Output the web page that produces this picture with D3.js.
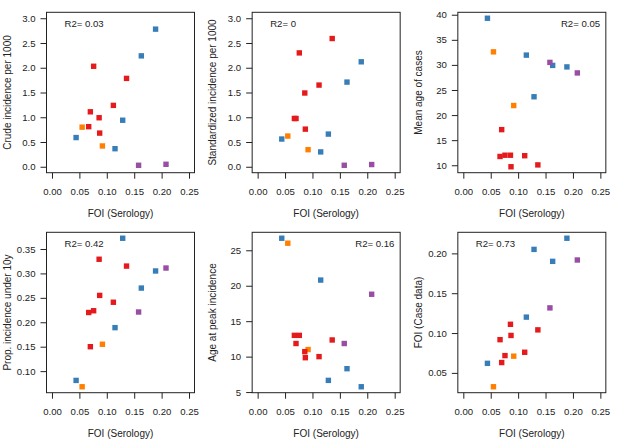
<!DOCTYPE html>
<html>
<head>
<meta charset="utf-8">
<script src="https://cdn.jsdelivr.net/npm/d3@7"></script>
<style>
  body { margin: 0; background: #fff; }
  svg { display: block; font-family: "Liberation Sans", Arial, Helvetica, sans-serif; }
  .box { fill: none; stroke: #222; stroke-width: 1; }
  .tick line { stroke: #222; }
  .tick text { fill: #222; font-size: 9.6px; }
  .ttl { fill: #222; font-size: 10px; }
  .r2 { fill: #222; font-size: 9.6px; }
</style>
</head>
<body>
<svg id="chart" width="617" height="440"></svg>
<script>
// sites, in the same order in every array
var group = ["b","b","b","b","b","o","o","r","r","r","r","r","r","r","p","p"];
var foiSero = [0.044,0.115,0.129,0.163,0.189, 0.055,0.092, 0.067,0.070,0.076,0.086,0.087,0.112,0.136, 0.158,0.208];

var crudeInc = [0.59,0.365,0.94,2.24,2.78, 0.80,0.42, 0.81,1.11,2.03,0.99,0.68,1.24,1.785, 0.03,0.05];
var stdInc   = [0.56,0.30,0.66,1.71,2.12, 0.62,0.345, 0.975,0.975,2.30,1.49,0.76,1.65,2.59, 0.03,0.045];
var meanAge  = [39.3,31.95,23.65,29.9,29.6, 32.6,21.9, 11.75,17.1,12.0,12.0,9.7,11.9,10.07, 30.5,28.4];
var propU10  = [0.081,0.189,0.372,0.270,0.305, 0.068,0.155, 0.220,0.150,0.2236,0.329,0.255,0.241,0.315, 0.221,0.311];
var peakAge  = [26.7,20.8,6.65,8.3,5.75, 26.0,11.0, 13.0,11.85,13.0,10.7,9.85,10.0,12.35, 11.85,18.8];
var foiCase  = [0.062,0.120,0.205,0.190,0.219, 0.0326,0.071, 0.0917,0.063,0.0717,0.111,0.097,0.0759,0.104, 0.1316,0.1917];

var xTicks = [0, 0.05, 0.10, 0.15, 0.20, 0.25];
var colors = { b: "#377EB8", o: "#FF7F00", r: "#E41A1C", p: "#984EA3" };

var panels = [
  { y: crudeInc, label: "Crude incidence per 1000", r2: "R2= 0.03", r2Side: "left",
    lim: [0, 3], ticks: [0, 0.5, 1, 1.5, 2, 2.5, 3], fmt: ".1f" },
  { y: stdInc, label: "Standardized incidence per 1000", r2: "R2= 0", r2Side: "left",
    lim: [0, 3], ticks: [0, 0.5, 1, 1.5, 2, 2.5, 3], fmt: ".1f" },
  { y: meanAge, label: "Mean age of cases", r2: "R2= 0.05", r2Side: "right",
    lim: null, ticks: [10, 15, 20, 25, 30, 35, 40], fmt: "d" },
  { y: propU10, label: "Prop. incidence under 10y", r2: "R2= 0.42", r2Side: "left",
    lim: null, ticks: [0.10, 0.15, 0.20, 0.25, 0.30, 0.35], fmt: ".2f" },
  { y: peakAge, label: "Age at peak incidence", r2: "R2= 0.16", r2Side: "right",
    lim: null, ticks: [5, 10, 15, 20, 25], fmt: "d" },
  { y: foiCase, label: "FOI (Case data)", r2: "R2= 0.73", r2Side: "left",
    lim: null, ticks: [0.05, 0.10, 0.15, 0.20], fmt: ".2f" }
];

var svg = d3.select("#chart");
var cellW = 617 / 3, cellH = 220;
var m = { left: 46.5, top: 12.3 };
var boxW = 148, boxH = 160.4;

// R style axis range: 4% padding on each side
function padded(ext) {
  var d = (ext[1] - ext[0]) * 0.04;
  return [ext[0] - d, ext[1] + d];
}

panels.forEach(function(p, i) {
  var col = i % 3, row = Math.floor(i / 3);
  var g = svg.append("g")
    .attr("transform", "translate(" + (col * cellW + m.left) + "," + (row * cellH + m.top) + ")");

  var x = d3.scaleLinear().domain(padded([0, 0.25])).range([0, boxW]);
  var y = d3.scaleLinear().domain(padded(p.lim || d3.extent(p.y))).range([boxH, 0]);

  g.append("g")
    .attr("class", "axis")
    .attr("transform", "translate(0," + boxH + ")")
    .call(d3.axisBottom(x).tickValues(xTicks).tickFormat(d3.format(".2f")).tickSize(6).tickPadding(9))
    .call(function(a) { a.select(".domain").remove(); });

  g.append("g")
    .attr("class", "axis")
    .call(d3.axisLeft(y).tickValues(p.ticks).tickFormat(d3.format(p.fmt)).tickSize(6).tickPadding(5))
    .call(function(a) { a.select(".domain").remove(); });

  g.append("rect").attr("class", "box")
    .attr("x", 0).attr("y", 0).attr("width", boxW).attr("height", boxH);

  g.selectAll("rect.pt")
    .data(foiSero)
    .join("rect")
      .attr("class", "pt")
      .attr("x", function(d) { return x(d) - 2.7; })
      .attr("y", function(d, j) { return y(p.y[j]) - 2.7; })
      .attr("width", 5.4)
      .attr("height", 5.4)
      .attr("fill", function(d, j) { return colors[group[j]]; });

  g.append("text").attr("class", "ttl")
    .attr("x", boxW / 2).attr("y", boxH + 40.6).attr("dy", "0.35em")
    .attr("text-anchor", "middle")
    .text("FOI (Serology)");

  g.append("text").attr("class", "ttl")
    .attr("transform", "translate(-39.5," + (boxH / 2) + ") rotate(-90)")
    .attr("dy", "0.35em")
    .attr("text-anchor", "middle")
    .text(p.label);

  var left = p.r2Side === "left";
  g.append("text").attr("class", "r2")
    .attr("x", left ? 18 : boxW - 5.7)
    .attr("y", 11).attr("dy", "0.35em")
    .attr("text-anchor", left ? "start" : "end")
    .text(p.r2);
});
</script>
</body>
</html>
